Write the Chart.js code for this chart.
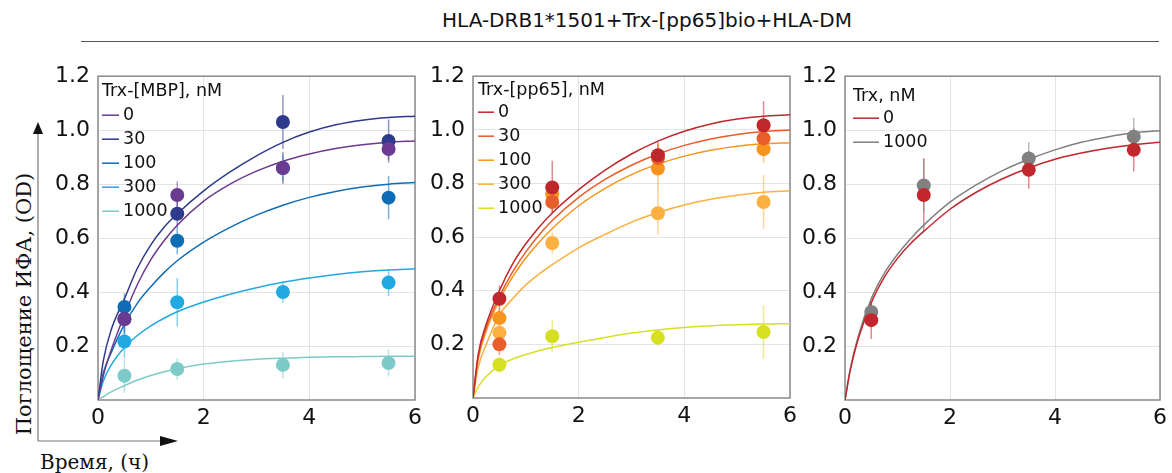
<!DOCTYPE html>
<html>
<head>
<meta charset="utf-8">
<script src="https://cdn.jsdelivr.net/npm/chart.js@4.4.1/dist/chart.umd.min.js"></script>
<style>
  body { margin: 0; width: 1172px; height: 473px; background: #fff; position: relative; overflow: hidden; font-family: "DejaVu Sans", sans-serif; color: #111; }
  canvas { position: absolute; }
  #title { position: absolute; left: 397px; top: 8px; width: 500px; text-align: center; font-size: 20px; line-height: 24px; }
  #rule { position: absolute; left: 81px; top: 41px; width: 1078px; border-top: 1.5px solid #555; }
  #ytitle { position: absolute; left: -131px; top: 292px; width: 310px; height: 24px; line-height: 24px; text-align: center;
            font-family: "DejaVu Serif", serif; font-size: 21px; transform: rotate(-90deg); white-space: nowrap; }
  #xtitle { position: absolute; left: 40px; top: 450px; font-family: "DejaVu Serif", serif; font-size: 20px; line-height: 24px; white-space: nowrap; }
  svg { position: absolute; left: 0; top: 0; }
</style>
</head>
<body>
<div id="title">HLA-DRB1*1501+Trx-[pp65]bio+HLA-DM</div>
<div id="rule"></div>
<div id="ytitle">Поглощение ИФА, (OD)</div>
<div id="xtitle">Время, (ч)</div>
<svg width="200" height="473">
  <line x1="38" y1="133" x2="38" y2="441" stroke="#777" stroke-width="1.2"/>
  <polygon points="38,122 33,134 43,134" fill="#111"/>
  <line x1="38" y1="441" x2="161" y2="441" stroke="#777" stroke-width="1.2"/>
  <polygon points="178,441 160,436 160,446" fill="#111"/>
</svg>
<canvas id="chartMBP" width="392" height="385" style="left:38px;top:55px"></canvas>
<canvas id="chartPP65" width="387" height="385" style="left:418px;top:55px"></canvas>
<canvas id="chartTrx" width="384" height="385" style="left:788px;top:55px"></canvas>
<script>
// время измерения, ч
const hoursMeasured = [0.5, 1.5, 3.5, 5.5];
// точки аппроксимирующих кривых, ч
const hoursFit = [0, 0.1, 0.25, 0.5, 0.75, 1, 1.25, 1.5, 2, 2.5, 3, 3.5, 4, 4.5, 5, 5.5, 6];
const xTicks = [0, 2, 4, 6];
const yTicks = [0.2, 0.4, 0.6, 0.8, 1.0, 1.2];

// Trx-[MBP], nM
const mbpLabels = ['0', '30', '100', '300', '1000'];
const mbp0 = [0.30, 0.76, 0.86, 0.93];
const mbp30 = [0.30, 0.69, 1.03, 0.96];
const mbp100 = [0.345, 0.59, 0.86, 0.75];
const mbp300 = [0.217, 0.362, 0.40, 0.435];
const mbp1000 = [0.09, 0.115, 0.13, 0.137];
const mbp0Err = [0.05, 0.05, 0.06, 0.04];
const mbp30Err = [0.06, 0.05, 0.10, 0.08];
const mbp100Err = [0.05, 0.05, 0.05, 0.08];
const mbp300Err = [0.06, 0.09, 0.04, 0.05];
const mbp1000Err = [0.065, 0.04, 0.05, 0.05];
const mbp0Fit = [0, 0.09, 0.185, 0.315, 0.43, 0.52, 0.59, 0.648, 0.737, 0.8, 0.848, 0.885, 0.912, 0.932, 0.946, 0.955, 0.96];
const mbp30Fit = [0, 0.145, 0.26, 0.375, 0.49, 0.575, 0.64, 0.69, 0.775, 0.845, 0.905, 0.955, 0.993, 1.02, 1.037, 1.047, 1.052];
const mbp100Fit = [0, 0.10, 0.175, 0.28, 0.36, 0.42, 0.472, 0.516, 0.585, 0.64, 0.685, 0.722, 0.751, 0.773, 0.789, 0.80, 0.806];
const mbp300Fit = [0, 0.07, 0.13, 0.195, 0.24, 0.275, 0.303, 0.327, 0.363, 0.392, 0.416, 0.436, 0.452, 0.465, 0.475, 0.482, 0.486];
const mbp1000Fit = [0, 0.012, 0.03, 0.053, 0.074, 0.091, 0.105, 0.116, 0.133, 0.144, 0.151, 0.155, 0.158, 0.16, 0.161, 0.162, 0.162];
const mbpColors = ['#6b3a91', '#2e3a8c', '#0f6db5', '#22a9e1', '#7ccbc9'];

// Trx-[pp65], nM
const ppLabels = ['0', '30', '100', '300', '1000'];
const pp0 = [0.37, 0.785, 0.905, 1.017];
const pp30 = [0.20, 0.731, 0.895, 0.968];
const pp100 = [0.298, 0.76, 0.856, 0.928];
const pp300 = [0.243, 0.578, 0.689, 0.731];
const pp1000 = [0.124, 0.23, 0.225, 0.246];
const pp0Err = [0.05, 0.10, 0.05, 0.09];
const pp30Err = [0.04, 0.04, 0.05, 0.05];
const pp100Err = [0.05, 0.05, 0.09, 0.05];
const pp300Err = [0.04, 0.04, 0.08, 0.10];
const pp1000Err = [0.03, 0.06, 0.03, 0.10];
const pp0Fit = [0, 0.165, 0.275, 0.40, 0.50, 0.575, 0.637, 0.69, 0.777, 0.85, 0.91, 0.958, 0.995, 1.022, 1.04, 1.051, 1.056];
const pp30Fit = [0, 0.155, 0.262, 0.378, 0.47, 0.545, 0.608, 0.662, 0.748, 0.815, 0.868, 0.91, 0.942, 0.966, 0.983, 0.994, 0.999];
const pp100Fit = [0, 0.145, 0.25, 0.365, 0.452, 0.522, 0.581, 0.632, 0.717, 0.782, 0.833, 0.872, 0.902, 0.924, 0.939, 0.948, 0.952];
const pp300Fit = [0, 0.115, 0.20, 0.31, 0.37, 0.422, 0.462, 0.497, 0.56, 0.61, 0.656, 0.692, 0.72, 0.741, 0.756, 0.767, 0.773];
const pp1000Fit = [0, 0.042, 0.08, 0.122, 0.145, 0.162, 0.176, 0.188, 0.208, 0.226, 0.242, 0.254, 0.263, 0.269, 0.273, 0.276, 0.277];
const ppColors = ['#c0272d', '#e95d2a', '#f7941d', '#fbb040', '#d7df23'];

// Trx, nM
const trxLabels = ['0', '1000'];
const trx0 = [0.296, 0.76, 0.853, 0.927];
const trx1000 = [0.326, 0.795, 0.895, 0.976];
const trx0Err = [0.07, 0.135, 0.07, 0.08];
const trx1000Err = [0.03, 0.10, 0.06, 0.07];
const trx0Fit = [0, 0.11, 0.225, 0.36, 0.455, 0.525, 0.58, 0.625, 0.707, 0.77, 0.82, 0.86, 0.892, 0.915, 0.933, 0.946, 0.955];
const trx1000Fit = [0, 0.115, 0.235, 0.375, 0.47, 0.54, 0.598, 0.648, 0.733, 0.797, 0.85, 0.892, 0.927, 0.955, 0.975, 0.99, 0.998];
const trxColors = ['#c1272d', '#808080'];

const tickFont = { family: 'DejaVu Sans', size: 22 };

// рамка вокруг области графика
const framePlugin = {
    id: 'frame',
    beforeDatasetsDraw(chart) {
        const { ctx, chartArea: a } = chart;
        ctx.save();
        ctx.strokeStyle = '#8a8a8a';
        ctx.lineWidth = 1.5;
        ctx.strokeRect(a.left, a.top, a.right - a.left, a.bottom - a.top);
        ctx.restore();
    }
};

// вертикальные планки погрешностей
const errorBarPlugin = {
    id: 'errorBars',
    beforeDatasetsDraw(chart) {
        const { ctx, scales } = chart;
        ctx.save();
        ctx.lineWidth = 1.5;
        chart.data.datasets.forEach(ds => {
            if (!ds.errors) return;
            ctx.strokeStyle = ds.backgroundColor + '88';
            ds.data.forEach((p, i) => {
                const x = scales.x.getPixelForValue(p.x);
                ctx.beginPath();
                ctx.moveTo(x, scales.y.getPixelForValue(p.y - ds.errors[i]));
                ctx.lineTo(x, scales.y.getPixelForValue(p.y + ds.errors[i]));
                ctx.stroke();
            });
        });
        ctx.restore();
    }
};

// легенда внутри области графика
const insideLegend = {
    id: 'insideLegend',
    afterDraw(chart, args, o) {
        const { ctx, chartArea: a } = chart;
        ctx.save();
        ctx.font = '17.5px "DejaVu Sans"';
        ctx.fillStyle = '#111';
        ctx.textBaseline = 'middle';
        ctx.fillText(o.title, a.left + o.dx, a.top + o.titleDy);
        chart.data.datasets.filter(d => d.showLine).forEach((d, i) => {
            const y = a.top + o.firstDy + i * 24;
            ctx.strokeStyle = d.borderColor;
            ctx.lineWidth = 1.5;
            ctx.beginPath();
            ctx.moveTo(a.left + o.dx, y);
            ctx.lineTo(a.left + o.dx + o.lineLen, y);
            ctx.stroke();
            ctx.fillText(d.label, a.left + o.dx + o.lineLen + 4, y);
        });
        ctx.restore();
    }
};

function makePanel(id, labels, colors, means, errs, fits, layout) {
    const datasets = [];
    labels.forEach((lab, k) => {
        datasets.push({
            label: lab,
            data: hoursMeasured.map((t, i) => ({ x: t, y: means[k][i] })),
            errors: errs[k],
            backgroundColor: colors[k],
            pointRadius: 7,
            pointBorderWidth: 0,
            showLine: false,
            order: 0
        });
    });
    labels.forEach((lab, k) => {
        datasets.push({
            label: lab,
            data: hoursFit.map((t, i) => ({ x: t, y: fits[k][i] })),
            borderColor: colors[k],
            borderWidth: 1.5,
            pointRadius: 0,
            showLine: true,
            cubicInterpolationMode: 'monotone',
            order: 1
        });
    });

    new Chart(document.getElementById(id), {
        type: 'scatter',
        data: { datasets: datasets },
        options: {
            responsive: false,
            animation: false,
            devicePixelRatio: 1,
            layout: { padding: { left: 0, right: layout.padRight, top: layout.padTop, bottom: 0 } },
            plugins: {
                legend: { display: false },
                tooltip: { enabled: false },
                insideLegend: layout.legend
            },
            scales: {
                x: {
                    type: 'linear', min: 0, max: 6,
                    afterBuildTicks: s => { s.ticks = xTicks.map(v => ({ value: v })); },
                    afterFit: s => { s.height = layout.xHeight; },
                    ticks: { font: tickFont, color: '#111', padding: 5, maxRotation: 0 },
                    grid: { color: '#e4e4e4', drawTicks: false },
                    border: { display: false }
                },
                y: {
                    type: 'linear', min: 0, max: 1.2,
                    afterBuildTicks: s => { s.ticks = yTicks.map(v => ({ value: v })); },
                    afterFit: s => { s.width = layout.yWidth; },
                    ticks: { font: tickFont, color: '#111', padding: 8, callback: v => v.toFixed(1) },
                    grid: { color: '#e4e4e4', drawTicks: false },
                    border: { display: false }
                }
            }
        },
        plugins: [framePlugin, errorBarPlugin, insideLegend]
    });
}

makePanel('chartMBP', mbpLabels, mbpColors,
    [mbp0, mbp30, mbp100, mbp300, mbp1000],
    [mbp0Err, mbp30Err, mbp100Err, mbp300Err, mbp1000Err],
    [mbp0Fit, mbp30Fit, mbp100Fit, mbp300Fit, mbp1000Fit],
    { yWidth: 60, xHeight: 40, padRight: 15, padTop: 19,
      legend: { title: 'Trx-[MBP], nM', dx: 4, titleDy: 15, firstDy: 39, lineLen: 17 } });

makePanel('chartPP65', ppLabels, ppColors,
    [pp0, pp30, pp100, pp300, pp1000],
    [pp0Err, pp30Err, pp100Err, pp300Err, pp1000Err],
    [pp0Fit, pp30Fit, pp100Fit, pp300Fit, pp1000Fit],
    { yWidth: 55, xHeight: 42, padRight: 15, padTop: 21,
      legend: { title: 'Trx-[pp65], nM', dx: 5, titleDy: 14, firstDy: 36, lineLen: 16 } });

makePanel('chartTrx', trxLabels, trxColors,
    [trx0, trx1000],
    [trx0Err, trx1000Err],
    [trx0Fit, trx1000Fit],
    { yWidth: 57, xHeight: 40, padRight: 7, padTop: 18,
      legend: { title: 'Trx, nM', dx: 8, titleDy: 20, firstDy: 42, lineLen: 26 } });
</script>
</body>
</html>
